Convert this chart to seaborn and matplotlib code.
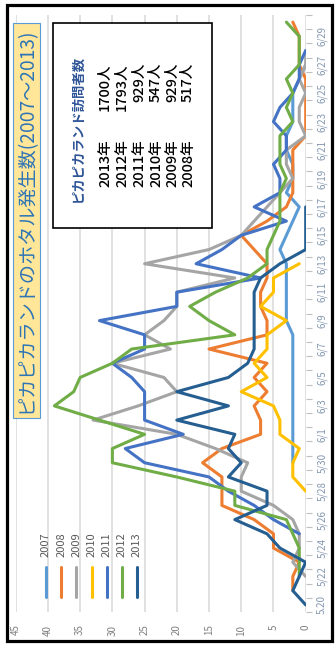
import numpy as np
import pandas as pd
import matplotlib
matplotlib.use('Agg')
import matplotlib.pyplot as plt
import seaborn as sns
from matplotlib.patches import Rectangle
from matplotlib.lines import Line2D

# ---------------- data ----------------
dates = ['5/20', '5/21', '5/22', '5/23', '5/24', '5/25', '5/26', '5/27', '5/28', '5/29',
         '5/30', '5/31', '6/1', '6/2', '6/3', '6/4', '6/5', '6/6', '6/7', '6/8',
         '6/9', '6/10', '6/11', '6/12', '6/13', '6/14', '6/15', '6/16', '6/17', '6/18',
         '6/19', '6/20', '6/21', '6/22', '6/23', '6/24', '6/25', '6/26', '6/27', '6/28',
         '6/29', '6/30']
tick_labels = ['5.20', '5/22', '5/24', '5/26', '5/28', '5/30', '6/1', '6/3', '6/5', '6/7',
               '6/9', '6/11', '6/13', '6/15', '6/17', '6/19', '6/21', '6/23', '6/25', '6/27',
               '6/29']
N = None
years = ['2007', '2008', '2009', '2010', '2011', '2012', '2013']
v2007 = [N, N, N, N, N, N, N, N, N, N,
         2, 2, 2, 2, 2, 2, 2, 2, 2, 2,
         3, 3, 3, 3, 3, 4, 3, 2, 1, 3,
         2, 2, 3, 3, 2, 2, 2, 1, 0, N,
         N, N]
v2008 = [N, 2, 2, 1, 5, 5, 8, 13, 13, 13,
         16, 13, 7, 7, 8, 6, 8, 6, 15, 6,
         6, 7, 7, 6, 6, 8, 10, 6, 3, 2,
         2, 2, 2, 0, 0, 0, 0, 0, 1, 1,
         1, 2]
v2009 = [N, N, 0, 2, 1, 1, 2, 5, 10, 10,
         9, 14, 20, 33, 26, 20, 22, 30, 21, 25,
         22, 20, 20, 11, 25, 15, 10, 8, 6, 4,
         2, 3, 3, 0, 1, 1, 0, 1, 0, 0,
         N, N]
v2010 = [N, N, N, N, N, N, N, N, 0, 2,
         2, 1, 4, 4, 5, 10, 6, 8, 6, 6,
         3, 7, 5, 5, 1, N, N, N, N, N,
         N, N, N, N, N, N, N, N, N, N,
         N, N]
v2011 = [N, N, N, N, N, 1, 5, 8, 12, 15,
         25, 28, 19, 25, 25, 25, 27, 30, 25, 25,
         32, 20, 20, 7, 17, 13, 10, 3, 8, 4,
         4, 5, 3, 3, 5, 4, 2, 1, 1, 0,
         N, N]
v2012 = [N, N, 1, 1, 1, 2, 3, 11, 11, 20,
         30, 30, 25, 32, 39, 36, 35, 30, 27, 11,
         15, 18, 14, 9, 6, 6, 5, 4, 4, 4,
         3, 4, 4, 4, 2, 3, 2, 3, 1, 1,
         1, 3]
v2013 = [0, 2, 1, 0, 4, 6, 11, 6, 6, 12,
         10, 12, 11, 20, 12, 20, 12, 9, 8, 8,
         8, 8, 8, 7, 4, 0, 0, 0, 0, N,
         N, N, N, N, N, N, N, N, N, N,
         N, N]
series = [v2007, v2008, v2009, v2010, v2011, v2012, v2013]
colors = ['#5B9BD5', '#ED7D31', '#A5A5A5', '#FFC000', '#4472C4', '#70AD47', '#255E91']

value_ticks = [0, 5, 10, 15, 20, 25, 30, 35, 40, 45]
title = 'ピカピカランドのホタル発生数(2007～2013)'
box_title = 'ピカピカランド訪問者数'
visit_years = ['2013年', '2012年', '2011年', '2010年', '2009年', '2008年']
visit_counts = ['1700人', '1793人', '929人', '547人', '929人', '517人']

# ---------------- style ----------------
sns.set_style('white')
plt.rcParams['font.family'] = ['Noto Sans CJK JP', 'DejaVu Sans']

W, H = 335, 645
fig = plt.figure(figsize=(W / 100, H / 100), dpi=100)
fig.patch.set_facecolor('white')


def fx(x):
    return x / W


def fy(y):
    return 1 - y / H


ax = fig.add_axes([fx(15.7), fy(612), fx(305.7) - fx(15.7), fy(15) - fy(612)])
ax.set_facecolor('none')

rows = []
for yr, vals in zip(years, series):
    for i, v in enumerate(vals):
        if v is not None:
            rows.append({'year': yr, 'pos': i, 'count': v})
df = pd.DataFrame(rows)

sns.lineplot(data=df, x='count', y='pos', hue='year', hue_order=years,
             palette=colors, orient='y', sort=True, estimator=None,
             linewidth=2.2, legend=False, ax=ax,
             solid_joinstyle='round', solid_capstyle='round')

ax.set_xlim(45, 0)
ax.set_ylim(-0.5, len(dates) - 0.5)
ax.set_xlabel('')
ax.set_ylabel('')
for s in ax.spines.values():
    s.set_visible(False)

ax.set_xticks(value_ticks)
ax.set_xticklabels([str(v) for v in value_ticks], rotation=90)
ax.tick_params(axis='x', length=0, pad=9, labelsize=7, labelcolor='#7F7F7F')
ax.grid(axis='x', color='#D9D9D9', lw=1.1)
ax.grid(axis='y', visible=False)

ax.yaxis.tick_right()
ax.set_yticks(range(0, len(dates), 2))
ax.set_yticklabels(tick_labels, rotation=90)
for lab in ax.get_yticklabels():
    lab.set_va('center')
ax.set_yticks(np.arange(-0.5, len(dates), 1), minor=True)
ax.tick_params(axis='y', which='major', length=0, pad=8, labelsize=7,
               labelcolor='#8497B0', right=True, left=False)
ax.tick_params(axis='y', which='minor', length=4, width=0.8, color='#BFBFBF',
               right=True, left=False)

# legend (vertical keys, rotated labels)
for i, (yr, c) in enumerate(zip(years, colors)):
    x = 46 + 15.17 * i
    fig.add_artist(Line2D([fx(x), fx(x)], [fy(567), fy(597)], transform=fig.transFigure,
                          color=c, lw=2.2, solid_capstyle='round'))
    fig.text(fx(x), fy(557), yr, rotation=90, rotation_mode='anchor', ha='left',
             va='center', fontsize=8, color='#595959')

# title box
fig.add_artist(Rectangle((fx(13), fy(418)), fx(40) - fx(13), fy(23) - fy(418),
                         transform=fig.transFigure, fc='#FFE699', ec='#5B9BD5', lw=0.8))
fig.text(fx(26.5), fy(220.5), title, rotation=90, ha='center', va='center',
         fontsize=13.8, color='#2E75B6')

# visitors box
fig.add_artist(Rectangle((fx(53), fy(228)), fx(212) - fx(53), fy(23) - fy(228),
                         transform=fig.transFigure, fc='white', ec='black', lw=1.2))
fig.text(fx(78), fy(128.5), box_title, rotation=90, ha='center', va='center',
         fontsize=9.6, fontweight='bold', color='#2F5597')
row_x = [105, 122, 139, 156, 172, 188]
for x, yr, cnt in zip(row_x, visit_years, visit_counts):
    fig.text(fx(x), fy(187), yr, rotation=90, rotation_mode='anchor', ha='left',
             va='center', fontsize=10.5, fontweight='medium', color='black')
    fig.text(fx(x), fy(63), cnt, rotation=90, rotation_mode='anchor', ha='right',
             va='center', fontsize=10.5, fontweight='medium', color='black')

# outer frame
fig.add_artist(Rectangle((fx(6.5), fy(640.5)), fx(332) - fx(6.5), fy(4.5) - fy(640.5),
                         transform=fig.transFigure, fill=False, ec='black', lw=2.3))

fig.savefig('out.png', dpi=100)
